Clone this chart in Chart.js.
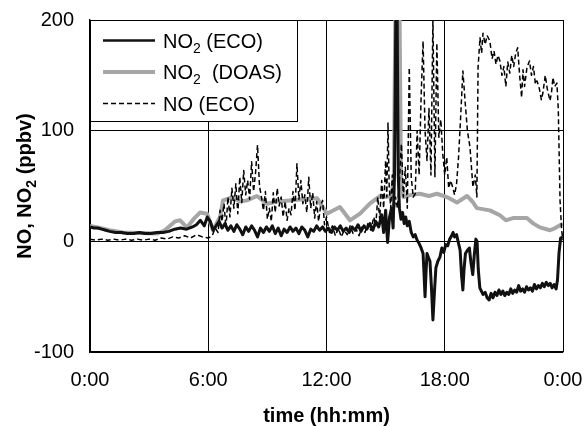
<!DOCTYPE html>
<html>
<head>
<meta charset="utf-8">
<script src="https://cdn.jsdelivr.net/npm/chart.js@4.4.1/dist/chart.umd.min.js"></script>
<style>
  html, body { margin: 0; padding: 0; background: #fff; }
  canvas { display: block; }
</style>
</head>
<body>
<canvas id="myChart" width="586" height="426"></canvas>
<script>
// time in hours since 0:00, values in ppbv
const tickLabels = ['0:00', '6:00', '12:00', '18:00', '0:00'];
const yTicks = [-100, 0, 100, 200];

const no2EcoTime = [0.0, 0.2, 0.4, 0.6, 0.8, 1.0, 1.3, 1.6, 1.9, 2.2, 2.5, 2.8, 3.1, 3.4, 3.7, 4.0, 4.3, 4.6, 4.9, 5.2,
  5.4, 5.6, 5.8, 5.95, 6.1, 6.25, 6.4, 6.55, 6.7, 6.85, 7.0, 7.15, 7.3, 7.45, 7.6, 7.75, 7.9, 8.05, 8.2, 8.35,
  8.5, 8.65, 8.8, 8.95, 9.1, 9.25, 9.4, 9.55, 9.7, 9.85, 10.0, 10.15, 10.3, 10.45, 10.6, 10.75, 10.9, 11.05, 11.2, 11.35,
  11.5, 11.65, 11.8, 11.95, 12.1, 12.25, 12.4, 12.55, 12.7, 12.85, 13.0, 13.15, 13.3, 13.45, 13.6, 13.75, 13.9, 14.05, 14.2, 14.35,
  14.5, 14.65, 14.8, 14.9, 15.0, 15.1, 15.2, 15.3, 15.38, 15.45, 15.52, 15.58, 15.64, 15.7, 15.78, 15.86, 15.94, 16.02, 16.1, 16.2,
  16.3, 16.4, 16.5, 16.6, 16.7, 16.8, 16.9, 16.95, 17.0, 17.05, 17.1, 17.18, 17.25, 17.32, 17.4, 17.48, 17.55, 17.65, 17.76, 17.85,
  17.95, 18.05, 18.15, 18.25, 18.35, 18.42, 18.5, 18.6, 18.7, 18.78, 18.85, 18.92, 18.98, 19.05, 19.15, 19.25, 19.32, 19.42, 19.5, 19.58,
  19.64, 19.7, 19.78, 19.86, 19.94, 20.05, 20.15, 20.25, 20.35, 20.45, 20.55, 20.65, 20.75, 20.85, 20.95, 21.05, 21.15, 21.25, 21.35, 21.45,
  21.55, 21.65, 21.75, 21.85, 21.95, 22.05, 22.15, 22.25, 22.35, 22.45, 22.55, 22.65, 22.75, 22.85, 22.95, 23.05, 23.15, 23.25, 23.35, 23.45,
  23.55, 23.65, 23.72, 23.8, 23.88, 24.0];
const no2EcoValues = [13, 12, 12, 11, 10, 9, 8, 8, 7, 7, 8, 7, 7, 8, 8, 9, 11, 12, 11, 13,
  15, 19, 14, 22, 18, 10, 14, 18, 12, 16, 10, 14, 9, 15, 11, 6, 13, 9, 14, 10,
  4, 12, 8, 13, 9, 14, 7, 12, 5, 11, 8, 13, 9, 12, 7, 13, 10, 4, 11, 9,
  14, 10, 13, 9, 12, 8, 13, 10, 14, 9, 12, 8, 13, 10, 15, 9, 14, 11, 16, 10,
  18, 13, 24, 8, 28, -1, 22, 30, 12, 60, 210, 215, 60, 30, 20, 26, 16, 22, 14, 18,
  8, 4, 6, 1, -2, -6, -11, -30, -50, -28, -11, -15, -18, -40, -71, -45, -24, -18, -14, -6,
  -10, -3, -4, 2, 5, 8, 4, 6, -2, -8, -30, -44, -25, -11, -8, -6, -18, -30, -12, 2,
  0, -25, -42, -45, -48, -46, -51, -53, -47, -51, -46, -49, -44, -48, -45, -49, -46, -48, -43, -47,
  -44, -46, -40, -45, -43, -46, -41, -44, -42, -45, -39, -43, -40, -42, -38, -41, -37, -40, -38, -42,
  -39, -43, -35, -10, 3, 4];

const no2DoasTime = [0, 0.5, 1.0, 1.67, 2.5, 3.4, 3.8, 4.31, 4.57, 4.92, 5.25, 5.58, 5.94, 6.24, 6.6, 6.75, 7.26, 7.6, 7.97, 8.47,
  8.98, 9.5, 10.15, 10.8, 11.52, 12.02, 12.68, 13.19, 13.7, 14.2, 14.71, 15.0, 15.3, 15.42, 15.5, 15.7, 15.78, 15.9, 16.3, 16.74,
  17.2, 17.6, 18.11, 18.62, 19.13, 19.4, 19.63, 20.29, 20.8, 21.1, 21.46, 22.17, 22.5, 22.83, 23.34, 23.6, 23.85, 24];
const no2DoasValues = [14, 12, 10, 8, 7.5, 7, 10, 18, 19, 12.6, 20, 26, 25, 10, 22, 37, 40, 36, 37, 41,
  34, 36, 37, 38, 39, 25, 31, 19, 25, 34, 41, 40, 41, 60, 220, 220, 55, 40, 42, 43,
  41, 43, 40, 35, 41, 36, 30, 28, 23.5, 19, 21, 21, 16, 12.6, 10, 12, 14.5, 16];

const noEcoTime = [0.0, 0.3, 0.6, 0.9, 1.2, 1.5, 1.8, 2.1, 2.4, 2.7, 3.0, 3.3, 3.6, 3.9, 4.2, 4.5, 4.8, 5.1, 5.4, 5.7,
  6.0, 6.2, 6.35, 6.5, 6.6, 6.7, 6.8, 6.9, 7.0, 7.1, 7.2, 7.3, 7.4, 7.5, 7.6, 7.7, 7.8, 7.9, 8.0, 8.1,
  8.2, 8.3, 8.4, 8.5, 8.6, 8.7, 8.8, 8.9, 9.0, 9.1, 9.2, 9.3, 9.4, 9.5, 9.6, 9.7, 9.8, 9.9, 10.0, 10.1,
  10.2, 10.3, 10.4, 10.5, 10.6, 10.7, 10.8, 10.9, 11.0, 11.1, 11.2, 11.3, 11.4, 11.5, 11.6, 11.7, 11.8, 11.9, 12.0, 12.15,
  12.3, 12.45, 12.6, 12.75, 12.9, 13.05, 13.2, 13.35, 13.5, 13.65, 13.8, 13.95, 14.1, 14.25, 14.4, 14.5, 14.6, 14.7, 14.8, 14.9,
  15.0, 15.06, 15.12, 15.18, 15.26, 15.34, 15.42, 15.5, 15.6, 15.7, 15.8, 15.9, 16.0, 16.1, 16.2, 16.3, 16.4, 16.5, 16.6, 16.7,
  16.8, 16.9, 17.0, 17.1, 17.2, 17.3, 17.4, 17.5, 17.6, 17.7, 17.8, 17.9, 18.0, 18.1, 18.2, 18.3, 18.4, 18.5, 18.6, 18.7,
  18.8, 18.92, 19.03, 19.15, 19.28, 19.43, 19.55, 19.63, 19.69, 19.79, 19.87, 19.94, 20.05, 20.15, 20.29, 20.4, 20.5, 20.6, 20.7, 20.8,
  20.9, 21.0, 21.1, 21.2, 21.3, 21.4, 21.5, 21.6, 21.7, 21.8, 21.9, 21.97, 22.05, 22.17, 22.3, 22.4, 22.5, 22.6, 22.68, 22.8,
  22.9, 22.98, 23.1, 23.2, 23.34, 23.42, 23.49, 23.58, 23.69, 23.76, 23.85, 23.93, 24.0];
const noEcoValues = [2, 1, 2, 1, 2, 1, 2, 1, 2, 1, 2, 1, 3, 2, 4, 3, 5, 3, 6, 4,
  3, 5, 12, 8, 28, 18, 34, 12, 40, 22, 48, 30, 52, 25, 58, 35, 64, 42, 55, 38,
  72, 45, 62, 87, 50, 40, 28, 45, 20, 30, 18, 44, 26, 48, 32, 40, 22, 36, 19, 30,
  24, 45, 28, 70, 38, 55, 34, 42, 26, 58, 30, 44, 21, 36, 18, 32, 37, 15, 22, 8,
  14, 5, 12, 4, 10, 6, 14, 7, 11, 5, 13, 8, 16, 10, 22, 14, 40, 20, 55, 30,
  73, 40, 107, 50, 30, 60, 25, 40, 30, 55, 88, 40, 67, 30, 157, 58, 40, 43, 100, 60,
  130, 181, 100, 73, 120, 60, 202, 58, 179, 94, 110, 79, 60, 76, 48, 55, 49, 42, 52, 76,
  110, 154, 127, 100, 85, 49, 60, 40, 157, 184, 170, 188, 178, 186, 181, 165, 172, 160, 168, 163,
  150, 158, 140, 162, 152, 168, 158, 170, 175, 150, 130, 155, 140, 157, 163, 150, 158, 142, 145, 138,
  128, 134, 150, 138, 127, 135, 148, 140, 143, 120, 37, 10, 1];

const toPoints = (times, values) => times.map((t, i) => ({ x: t, y: values[i] }));

const FONT = "'Liberation Sans', Arial, sans-serif";

const legendItems = [
  { main: 'NO', sub: '2', rest: ' (ECO)', color: '#111', width: 2.5, dash: [] },
  { main: 'NO', sub: '2', rest: '  (DOAS)', color: '#a6a6a6', width: 4, dash: [] },
  { main: 'NO (ECO)', sub: '', rest: '', color: '#000', width: 1.5, dash: [5, 3] }
];

// draws "NO" + subscript "2" + rest, starting at x, baseline y
const drawSubText = (ctx, x, y, main, sub, rest, size, weight) => {
  ctx.font = `${weight} ${size}px ${FONT}`;
  ctx.fillText(main, x, y);
  x += ctx.measureText(main).width;
  if (sub) {
    ctx.font = `${weight} ${Math.round(size * 0.68)}px ${FONT}`;
    ctx.fillText(sub, x, y + size * 0.25);
    x += ctx.measureText(sub).width;
  }
  ctx.font = `${weight} ${size}px ${FONT}`;
  ctx.fillText(rest, x, y);
  return x + ctx.measureText(rest).width;
};

const measureSubText = (ctx, main, sub, rest, size, weight) => {
  ctx.font = `${weight} ${size}px ${FONT}`;
  let w = ctx.measureText(main).width + ctx.measureText(rest).width;
  ctx.font = `${weight} ${Math.round(size * 0.68)}px ${FONT}`;
  w += ctx.measureText(sub).width;
  return w;
};

const paperPlugin = {
  id: 'paper',
  beforeDraw: (chart) => {
    const ctx = chart.ctx;
    ctx.save();
    ctx.fillStyle = '#fff';
    ctx.fillRect(0, 0, chart.width, chart.height);
    ctx.restore();
  },
  afterDatasetsDraw: (chart) => {
    const ctx = chart.ctx;
    const area = chart.chartArea;
    ctx.save();

    // legend box in the top left corner of the plot
    const boxW = 207, boxH = 101;
    ctx.fillStyle = '#fff';
    ctx.fillRect(area.left, area.top, boxW, boxH);
    ctx.strokeStyle = '#000';
    ctx.lineWidth = 1;
    ctx.strokeRect(area.left + 0.5, area.top + 0.5, boxW, boxH);

    legendItems.forEach((item, i) => {
      const y = area.top + 20.5 + i * 31.5;
      ctx.beginPath();
      ctx.setLineDash(item.dash);
      ctx.strokeStyle = item.color;
      ctx.lineWidth = item.width;
      ctx.moveTo(area.left + 13, y);
      ctx.lineTo(area.left + 65, y);
      ctx.stroke();
      ctx.setLineDash([]);
      ctx.fillStyle = '#000';
      ctx.textBaseline = 'alphabetic';
      ctx.textAlign = 'left';
      drawSubText(ctx, area.left + 73, y + 7, item.main, item.sub, item.rest, 20, 'normal');
    });

    // axis titles
    ctx.fillStyle = '#000';
    ctx.textAlign = 'center';
    ctx.textBaseline = 'alphabetic';
    ctx.font = `bold 20px ${FONT}`;
    ctx.fillText('time (hh:mm)', (area.left + area.right) / 2, 422);

    ctx.translate(31, (area.top + area.bottom) / 2);
    ctx.rotate(-Math.PI / 2);
    ctx.textAlign = 'left';
    const w = measureSubText(ctx, 'NO, NO', '2', ' (ppbv)', 20, 'bold');
    drawSubText(ctx, -w / 2, 0, 'NO, NO', '2', ' (ppbv)', 20, 'bold');
    ctx.restore();
  }
};

new Chart('myChart', {
  type: 'line',
  data: {
    datasets: [{
      label: 'NO2 (ECO)',
      data: toPoints(no2EcoTime, no2EcoValues),
      borderColor: '#111',
      borderWidth: 3
    }, {
      label: 'NO (ECO)',
      data: toPoints(noEcoTime, noEcoValues),
      borderColor: '#000',
      borderWidth: 1.5,
      borderDash: [5, 3]
    }, {
      label: 'NO2 (DOAS)',
      data: toPoints(no2DoasTime, no2DoasValues),
      borderColor: '#a6a6a6',
      borderWidth: 4
    }]
  },
  options: {
    responsive: false,
    animation: false,
    devicePixelRatio: 1,
    layout: { padding: { top: 20, right: 23, left: 0, bottom: 0 } },
    elements: { point: { radius: 0 }, line: { tension: 0, borderJoinStyle: 'round' } },
    plugins: { legend: { display: false }, tooltip: { enabled: false } },
    scales: {
      x: {
        type: 'linear',
        min: 0,
        max: 24,
        afterFit: (scale) => {
          scale.height = 74;
          scale.paddingLeft = 0;
          scale.paddingRight = 0;
        },
        afterBuildTicks: (scale) => { scale.ticks = tickLabels.map((_, i) => ({ value: i * 6 })); },
        ticks: {
          callback: (value, index) => tickLabels[index],
          color: '#000',
          padding: 16,
          maxRotation: 0,
          font: { family: FONT, size: 20 }
        },
        grid: { color: '#000', lineWidth: 1, drawTicks: false },
        border: { color: '#000', width: 1.3 }
      },
      y: {
        min: -100,
        max: 200,
        afterFit: (scale) => {
          scale.width = 90;
          scale.paddingTop = 0;
          scale.paddingBottom = 0;
        },
        afterBuildTicks: (scale) => { scale.ticks = yTicks.map((v) => ({ value: v })); },
        ticks: {
          color: '#000',
          padding: 16,
          font: { family: FONT, size: 20 }
        },
        grid: { color: '#000', lineWidth: 1, drawTicks: false },
        border: { color: '#000', width: 1.3 }
      }
    }
  },
  plugins: [paperPlugin]
});
</script>
</body>
</html>
